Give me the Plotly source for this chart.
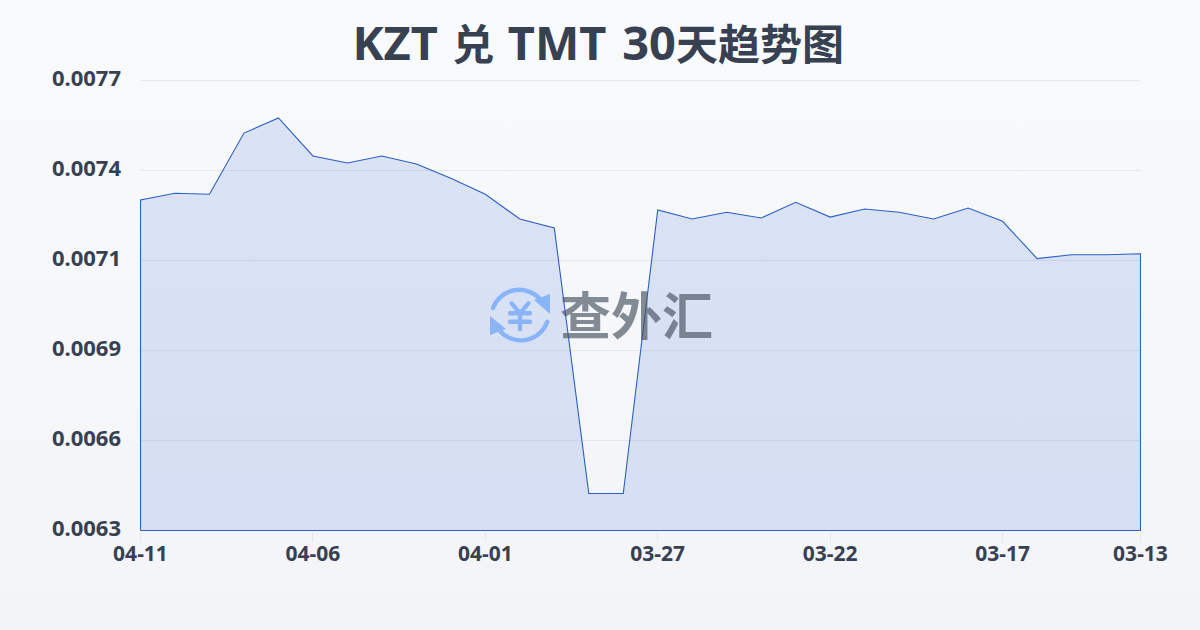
import base64
import plotly.graph_objects as go

dates = ["04-11","04-10","04-09","04-08","04-07","04-06","04-05","04-04","04-03","04-02",
         "04-01","03-31","03-30","03-29","03-28","03-27","03-26","03-25","03-24","03-23",
         "03-22","03-21","03-20","03-19","03-18","03-17","03-16","03-15","03-14","03-13"]
rates = [0.007327,0.007348,0.007345,0.007535,0.007582,0.007464,0.007442,0.007464,0.007439,0.007395,
         0.007345,0.007268,0.007240,0.006415,0.006415,0.007296,0.007268,0.007289,0.007271,0.007320,
         0.007274,0.007299,0.007289,0.007268,0.007302,0.007261,0.007145,0.007157,0.007157,0.007160]
y_ticks = [0.0063,0.00658,0.00686,0.00714,0.00742,0.0077]
y_labels = ["0.0063","0.0066","0.0069","0.0071","0.0074","0.0077"]
x_tick_labels = ["04-11","04-06","04-01","03-27","03-22","03-17","03-13"]
base = y_ticks[0]

FONT = "Noto Sans, Noto Sans CJK SC, sans-serif"
TEXT = "#374151"

def uri(svg):
    return "data:image/svg+xml;base64," + base64.b64encode(svg.encode()).decode()

def sized(s, px):
    return f'<span style="font-size:{px}px">{s}</span>'

title = ("<b>" + sized("KZT", 47) + sized(" ", 55) + "兑" + sized(" ", 52) + sized("TMT", 47)
         + sized(" ", 61) + sized("30", 47) + "天趋势图</b>")

bg = uri('<svg xmlns="http://www.w3.org/2000/svg" width="1200" height="630" preserveAspectRatio="none">'
         '<defs><linearGradient id="g" x1="0" y1="0" x2="0" y2="1"><stop offset="0" stop-color="#f9fafc"/>'
         '<stop offset="1" stop-color="#f2f4f7"/></linearGradient></defs>'
         '<rect width="1200" height="630" fill="url(#g)"/></svg>')
logo = uri('<svg xmlns="http://www.w3.org/2000/svg" width="60" height="60" viewBox="0 0 60 60">'
           '<g fill="none" stroke="#8ab4f8" stroke-width="4.4" stroke-linecap="round" stroke-linejoin="round">'
           '<path d="M3 23 A28 28 0 0 1 50 14"/>'
           '<path d="M57.3 36.7 A28 28 0 0 1 10 46"/>'
           '<path d="M21.7 18.3 L30 28.3 L38.3 18.3 M30 28.3 V44.3 M20 28.3 H40 M20 36.7 H40"/></g>'
           '<path d="M60 29 V9 L44 15 Z M0 31 V50 L16 44 Z" fill="#8ab4f8"/></svg>')

# plot box is slightly larger than the data span: the 1px outline lands on whole pixels
# and the top gridline stays visible, as in the reference
PW, PH = 1001, 453
dx = 0.5 * 29 / 1000
dy = 0.5 * 0.0014 / 450.5

xs = list(range(len(dates)))
fig = go.Figure(go.Scatter(
    x=[xs[0]] + xs + [xs[-1], xs[0]],
    y=[base] + rates + [base, base],
    mode="lines", fill="toself", fillcolor="rgba(40,95,215,0.14)",
    line=dict(color="#2a5fc4", width=1.1), cliponaxis=False, hoverinfo="skip", showlegend=False))

fig.update_layout(
    width=1200, height=630, autosize=False,
    margin=dict(l=140, r=59, t=78, b=99),
    paper_bgcolor="rgba(0,0,0,0)", plot_bgcolor="rgba(0,0,0,0)",
    font=dict(family=FONT, color=TEXT),
    title=dict(text=title, x=0.4985, xanchor="center",
               y=0.928, yanchor="middle", font=dict(size=42, family=FONT, color=TEXT)),
    xaxis=dict(range=[0 - dx, 29 + dx], tickvals=[dates.index(d) for d in x_tick_labels], ticktext=x_tick_labels,
               showgrid=False, zeroline=False, showline=False, ticks="outside", ticklen=10, tickwidth=1,
               tickcolor="#e5e7eb", ticklabelstandoff=-6,
               tickfont=dict(size=21, family=FONT, color=TEXT, weight="bold")),
    yaxis=dict(range=[0.0063 - dy, 0.0077 + 4 * dy], tickvals=y_ticks, ticktext=y_labels, showgrid=True,
               gridcolor="#e5e7eb", gridwidth=1, zeroline=False, showline=False, ticks="",
               ticklabelstandoff=18, ticklabelshift=-2,
               tickfont=dict(size=22, family=FONT, color=TEXT, weight="bold")),
    images=[
        dict(source=bg, xref="paper", yref="paper", x=-140/PW, y=1+78/PH, sizex=1200/PW, sizey=630/PH,
             sizing="stretch", layer="below", xanchor="left", yanchor="top"),
        dict(source=logo, xref="paper", yref="paper", x=(490-140)/PW, y=(531-285)/PH, sizex=60/PW, sizey=60/PH,
             sizing="stretch", layer="above", xanchor="left", yanchor="top"),
    ],
    annotations=[dict(text="<b>查外汇</b>", xref="paper", yref="paper", x=(636.5-140)/PW, y=(531-315)/PH,
                      xanchor="center", yanchor="middle", showarrow=False,
                      font=dict(size=51, family=FONT, color="rgba(75,85,99,0.68)"))],
)
fig.write_html("out.html", config={"displayModeBar": False},
               post_script="document.body.style.margin='0';document.body.style.overflow='hidden';")
